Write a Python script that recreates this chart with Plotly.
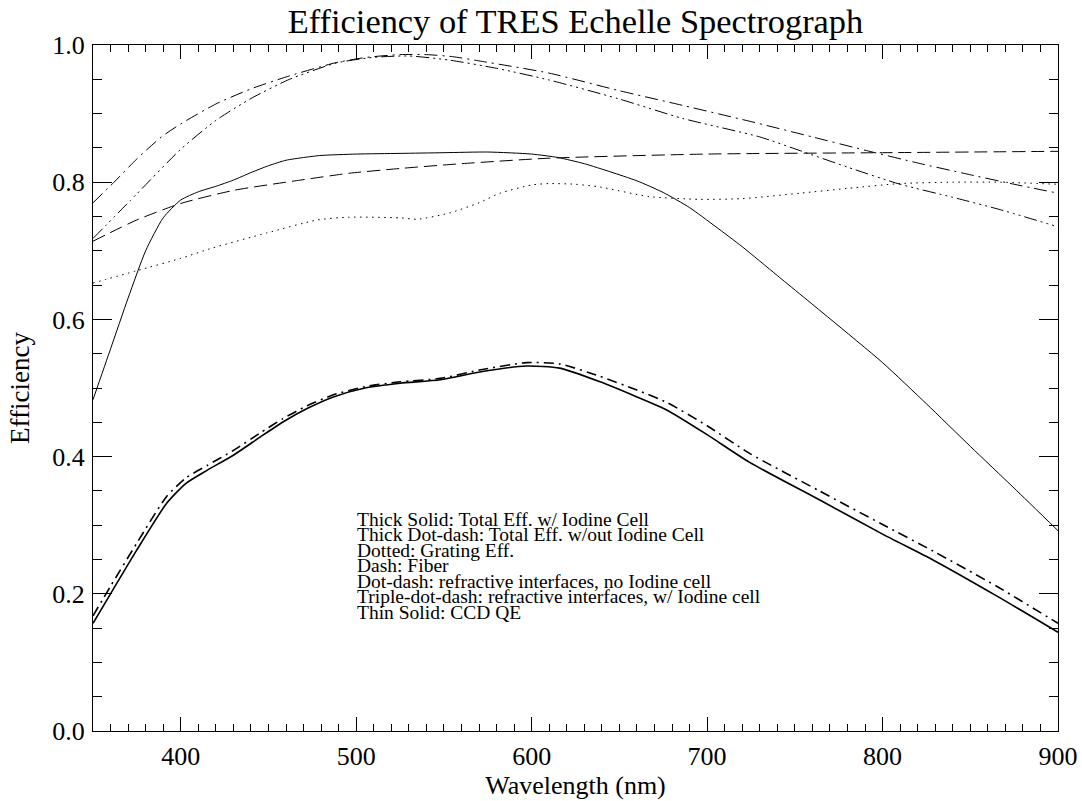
import plotly.graph_objects as go

# ---------------- data ----------------
ccd_wl = [350, 360, 370, 380, 390, 400, 410, 420, 430, 440, 450, 460, 470, 480, 500, 525, 550, 575,
          600, 615, 630, 645, 660, 675, 690, 705, 720, 740, 770, 800, 825, 850, 875, 900]
ccd_qe = [0.483, 0.557, 0.631, 0.700, 0.748, 0.774, 0.786, 0.794, 0.803, 0.814, 0.824, 0.832, 0.836,
          0.839, 0.841, 0.842, 0.843, 0.844, 0.841, 0.836, 0.827, 0.815, 0.802, 0.785, 0.763, 0.735,
          0.706, 0.664, 0.601, 0.537, 0.477, 0.415, 0.354, 0.292]

fiber_wl = [350, 375, 400, 430, 468, 496, 525, 560, 610, 700, 800, 900]
fiber_eff = [0.714, 0.745, 0.769, 0.788, 0.803, 0.813, 0.820, 0.827, 0.835, 0.841, 0.843, 0.845]

grating_wl = [350, 375, 400, 418, 449, 478, 496, 525, 535, 553, 570, 582, 600, 610, 625, 639, 667,
              696, 720, 753, 780, 810, 840, 867, 900]
grating_eff = [0.653, 0.671, 0.689, 0.704, 0.726, 0.745, 0.749, 0.748, 0.746, 0.755, 0.770, 0.784,
               0.796, 0.798, 0.797, 0.793, 0.779, 0.775, 0.776, 0.784, 0.791, 0.798, 0.800, 0.800, 0.797]

refr_wl = [350, 362, 375, 389, 400, 420, 440, 462, 488, 506, 525, 540, 555, 572, 610, 649, 686, 724,
           760, 791, 820, 848, 875, 900]
refr_no_i2 = [0.770, 0.800, 0.834, 0.866, 0.885, 0.914, 0.936, 0.955, 0.974, 0.982, 0.986, 0.986,
              0.983, 0.976, 0.959, 0.934, 0.912, 0.889, 0.866, 0.846, 0.828, 0.812, 0.797, 0.784]

refr_i2_wl = [350, 375, 400, 420, 440, 462, 489, 510, 530, 553, 580, 610, 649, 686, 730,
              753, 780, 810, 840, 867, 900]
refr_i2 = [0.718, 0.783, 0.848, 0.890, 0.922, 0.950, 0.974, 0.982, 0.984, 0.978, 0.966,
           0.949, 0.922, 0.893, 0.866, 0.846, 0.822, 0.797, 0.778, 0.760, 0.735]

total_wl = [350, 360, 375, 392, 403, 415, 430, 445, 458, 472, 487, 505, 525, 548, 572, 597, 616, 639,
            660, 677, 700, 724, 764, 800, 829, 865, 900]
total_i2 = [0.157, 0.200, 0.264, 0.332, 0.361, 0.380, 0.402, 0.428, 0.450, 0.470, 0.487, 0.500,
            0.507, 0.512, 0.524, 0.532, 0.529, 0.509, 0.487, 0.468, 0.432, 0.392, 0.337, 0.287,
            0.249, 0.197, 0.144]
total_no_i2 = [0.168, 0.211, 0.274, 0.342, 0.369, 0.387, 0.409, 0.434, 0.455, 0.474, 0.490, 0.502,
               0.509, 0.514, 0.527, 0.537, 0.535, 0.517, 0.497, 0.479, 0.445, 0.405, 0.350, 0.301,
               0.262, 0.211, 0.157]

x_ticks = [400, 500, 600, 700, 800, 900]
y_ticks = [0.0, 0.2, 0.4, 0.6, 0.8, 1.0]

legend_lines = [
    "Thick Solid: Total Eff. w/ Iodine Cell",
    "Thick Dot-dash: Total Eff. w/out Iodine Cell",
    "Dotted: Grating Eff.",
    "Dash: Fiber",
    "Dot-dash: refractive interfaces, no Iodine cell",
    "Triple-dot-dash: refractive interfaces, w/ Iodine cell",
    "Thin Solid: CCD QE",
]

# ---------------- figure ----------------
FONT = "Liberation Serif"
fig = go.Figure()

def add(x, y, width, dash):
    fig.add_trace(go.Scatter(x=x, y=y, mode="lines",
                             line=dict(color="black", width=width, dash=dash,
                                       shape="spline", smoothing=0.6),
                             hoverinfo="skip", showlegend=False))

add(ccd_wl, ccd_qe, 1, "solid")
add(fiber_wl, fiber_eff, 1, "13px,6px")
add(grating_wl, grating_eff, 1, "1.5px,4.5px")
add(refr_wl, refr_no_i2, 1, "13px,5px,2px,5px")
add(refr_i2_wl, refr_i2, 1, "13px,4px,2px,4px,2px,4px,2px,4px")
add(total_wl, total_no_i2, 1.6, "10px,5px,2px,5px")
add(total_wl, total_i2, 1.6, "solid")

# legend text block (IDL xyouts at 500 nm)
for i, t in enumerate(legend_lines):
    fig.add_annotation(x=500, y=0.300 - i * 0.0226, xref="x", yref="y",
                       text=t, showarrow=False, xanchor="left", yanchor="bottom",
                       font=dict(family=FONT, size=19.5, color="black"),
                       borderpad=0, yshift=-5.5)

fig.update_layout(
    width=1082, height=801,
    margin=dict(l=93, r=24, t=45, b=70),
    paper_bgcolor="white", plot_bgcolor="white",
    font=dict(family=FONT, color="black"),
    title=dict(text="Efficiency of TRES Echelle Spectrograph",
               x=0.5, xref="paper", xanchor="center",
               y=1 - 21 / 801, yref="container", yanchor="middle",
               font=dict(family=FONT, size=34.4, color="black")),
)

fig.update_xaxes(
    range=[350, 900], tickvals=x_ticks, ticktext=[str(v) for v in x_ticks],
    showgrid=False, zeroline=False, automargin=False,
    showline=True, linecolor="black", linewidth=1, mirror="allticks",
    ticks="inside", ticklen=14, tickwidth=1, tickcolor="black",
    minor=dict(dtick=10, tick0=350, ticks="inside", ticklen=7, tickwidth=1, tickcolor="black", showgrid=False),
    tickfont=dict(family=FONT, size=26, color="black"),
    ticklabelstandoff=2,
    title=dict(text="Wavelength (nm)", font=dict(family=FONT, size=26, color="black"), standoff=4),
)
fig.update_yaxes(
    range=[0, 1.0], tickvals=y_ticks, ticktext=[f"{v:.1f}" for v in y_ticks],
    showgrid=False, zeroline=False, automargin=False,
    showline=True, linecolor="black", linewidth=1, mirror="allticks",
    ticks="inside", ticklen=19, tickwidth=1, tickcolor="black",
    minor=dict(dtick=0.05, tick0=0, ticks="inside", ticklen=9, tickwidth=1, tickcolor="black", showgrid=False),
    tickfont=dict(family=FONT, size=26, color="black"),
    ticklabelstandoff=2,
    title=dict(text="Efficiency", font=dict(family=FONT, size=27, color="black"), standoff=14),
)

fig.write_html("out.html")
